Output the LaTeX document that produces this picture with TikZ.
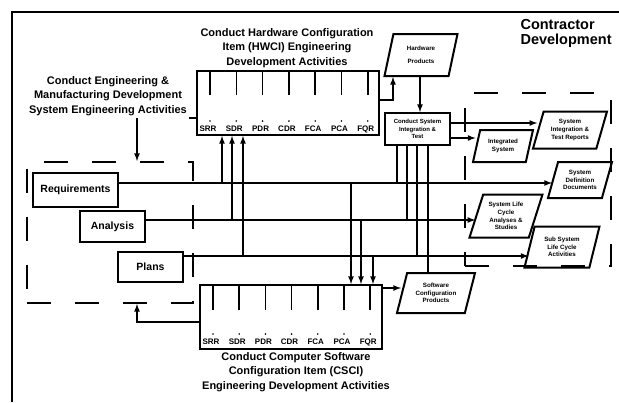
\documentclass[tikz,border=0pt]{standalone}
\usepackage{fontspec}
\setmainfont{Liberation Sans}
\usetikzlibrary{shapes.geometric}
\tikzset{
  blk/.style={draw,line width=2pt,inner sep=2pt,font=\fontsize{10.5}{12}\selectfont\bfseries},
  para/.style={draw,line width=2pt,trapezium,trapezium left angle=65,trapezium right angle=115,
    trapezium stretches body,inner sep=1pt,align=center,font=\fontsize{6.2}{7.6}\selectfont\bfseries},
  ttl/.style={align=center,font=\fontsize{11}{14.5}\selectfont\bfseries},
  rev/.style={font=\fontsize{8}{9}\selectfont\bfseries,inner sep=0pt},
  ln/.style={line width=1.6pt},
  arr/.style={line width=1.6pt,-latex},
  dsh/.style={draw,line width=2pt,dash pattern=on 24pt off 24pt}
}
\begin{document}
\begin{tikzpicture}[x=1pt,y=-1pt]
\useasboundingbox (0,0) rectangle (619,402);
% outer frame
\draw[line width=2pt] (12,402) -- (12,12) -- (619,12);
\node[anchor=north west,align=left,font=\fontsize{14.5}{15}\selectfont\bfseries] (cdev) at (517,16) {Contractor\\Development};

% titles
\node[ttl] (hwtl) at (287,48) {Conduct Hardware Configuration\\Item (HWCI) Engineering\\Development Activities};
\node[ttl,inner sep=2pt] (setl) at (108,96) {Conduct Engineering \&\\Manufacturing Development\\System Engineering Activities};
\node[ttl] (swtl) at (296,372) {Conduct Computer Software\\Configuration Item (CSCI)\\Engineering Development Activities};

% HWCI and CSCI boxes with review points
\node[draw,line width=2pt,minimum width=182pt,minimum height=64pt,inner sep=0pt] (hwci) at (288,103) {};
\node[draw,line width=2pt,minimum width=182pt,minimum height=64pt,inner sep=0pt] (csci) at (291,317) {};
\foreach \lbl [count=\i] in {SRR,SDR,PDR,CDR,FCA,PCA,FQR}{
  \draw[ln] ({210+26.3*(\i-1)},71) -- ++(0,24);
  \fill ({210+26.3*(\i-1)},121) circle (0.9);
  \node[rev] (hr\i) at ({208+26.3*(\i-1)},129) {\lbl};
  \draw[ln] ({213+26.2*(\i-1)},285) -- ++(0,25);
  \fill ({213+26.2*(\i-1)},334) circle (0.9);
  \node[rev] (cr\i) at ({211+26.2*(\i-1)},342) {\lbl};
}

% system engineering activities
\node[dsh,minimum width=166pt,minimum height=141pt] (sea) at (110,232.5) {};
\node[blk,minimum width=85pt,minimum height=34pt] (req) at (75.5,190) {Requirements};
\node[blk,minimum width=65pt,minimum height=31pt] (ana) at (112.5,226.5) {Analysis};
\node[blk,minimum width=65pt,minimum height=30pt] (pln) at (150.5,267) {Plans};

% contractor development products
\node[dsh,minimum width=146pt,minimum height=173pt] (cdv) at (538,179.5) {};
\node[draw,line width=2pt,minimum width=65pt,minimum height=32pt,inner sep=1pt,align=center,
  font=\fontsize{6}{7.5}\selectfont\bfseries] (sit) at (417.5,129) {Conduct System\\Integration \&\\Test};
\node[para,minimum width=73pt,minimum height=42pt] (hwp) at (421,55) {Hardware\\[5pt]Products};
\node[para,minimum width=78pt,minimum height=40pt] (swp) at (436,293) {Software\\Configuration\\Products};
\node[para,minimum width=60pt,minimum height=32pt] (ints) at (503,146) {Integrated\\System};
\node[para,minimum width=74pt,minimum height=37pt] (sitr) at (570,130) {System\\Integration \&\\Test Reports};
\node[para,minimum width=64pt,minimum height=36pt] (sdd) at (580,180) {System\\Definition\\Documents};
\node[para,minimum width=73pt,minimum height=43pt] (slc) at (506,216) {System Life\\Cycle\\Analyses \&\\Studies};
\node[para,minimum width=75pt,minimum height=41pt] (ssl) at (562,247) {Sub System\\Life Cycle\\Activities};

% levels and taps
\coordinate (rq) at (0,183);
\coordinate (an) at (0,220);
\coordinate (pl) at (0,256);
\coordinate (tp) at (137,0);
\coordinate (bt) at (137,322);
\coordinate (hp) at (393,100);
\coordinate (hs) at (420,0);
\coordinate (sr) at (0,123);
\coordinate (is) at (0,138);
\coordinate (cs) at (0,288);
\foreach \n/\x in {h1/222,h2/232,h3/243,c1/351,c2/361,c3/373,s1/397,s2/407,s3/417,s4/428}
  \coordinate (\n) at (\x,0);

% connectors
\draw[ln] (setl.south east) -- (setl.south east -| hwci.west);
\draw[arr] (setl.south -| tp) -- (sea.north -| tp);
\draw[arr] (csci.west |- bt) -| (sea.south -| bt);
\draw[arr] (req.east |- rq) -- (sdd.west |- rq);
\draw[arr] (ana.east |- an) -- (slc.west |- an);
\draw[arr] (pln.east |- pl) -- (ssl.west |- pl);
\draw[arr] (h1 |- rq) -- (h1 |- hwci.south);
\draw[arr] (h2 |- an) -- (h2 |- hwci.south);
\draw[arr] (h3 |- pl) -- (h3 |- hwci.south);
\draw[arr] (c1 |- rq) -- (c1 |- csci.north);
\draw[arr] (c2 |- an) -- (c2 |- csci.north);
\draw[arr] (c3 |- pl) -- (c3 |- csci.north);
\draw[ln] (s1 |- rq) -- (s1 |- sit.south);
\draw[ln] (s2 |- an) -- (s2 |- sit.south);
\draw[ln] (s3 |- pl) -- (s3 |- sit.south);
\draw[ln] (s4 |- swp.north) -- (s4 |- sit.south);
\draw[arr] (hwci.east |- hp) -| (hp |- hwp.south);
\draw[arr] (hs |- hwp.south) -- (hs |- sit.north);
\draw[arr] (sit.east |- sr) -- (sitr.west |- sr);
\draw[arr] (sit.east |- is) -- (ints.west |- is);
\draw[arr] (csci.east |- cs) -- (swp.west |- cs);
\end{tikzpicture}
\end{document}
